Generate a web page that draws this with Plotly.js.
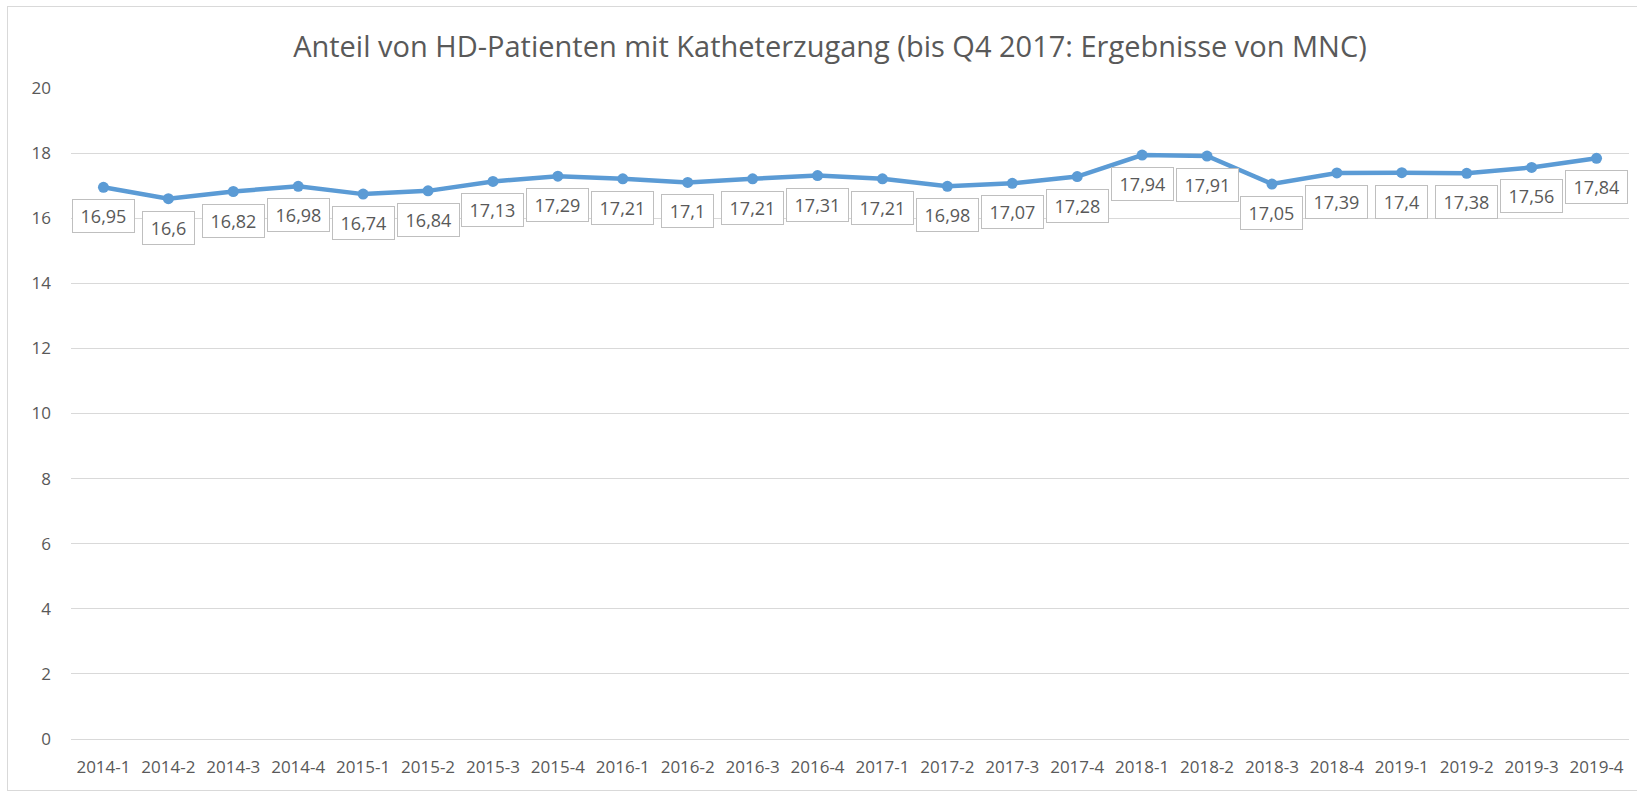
<!DOCTYPE html>
<html>
<head>
<meta charset="utf-8">
<script src="https://cdn.plot.ly/plotly-3.0.1.min.js"></script>
<style>
  html, body { margin: 0; padding: 0; background: #fff; }
  #wrap { position: relative; width: 1637px; height: 796px; overflow: hidden; }
  #chart { position: absolute; left: 0; top: 0; width: 1637px; height: 796px; }
  #frame { position: absolute; left: 7px; top: 6px; width: 1660px; height: 783px;
           border: 1px solid #D9D9D9; pointer-events: none; }
</style>
</head>
<body>
<div id="wrap">
  <div id="chart"></div>
  <div id="frame"></div>
</div>
<script>
const categories = ["2014-1","2014-2","2014-3","2014-4","2015-1","2015-2","2015-3","2015-4",
  "2016-1","2016-2","2016-3","2016-4","2017-1","2017-2","2017-3","2017-4",
  "2018-1","2018-2","2018-3","2018-4","2019-1","2019-2","2019-3","2019-4"];
const values = [16.95,16.6,16.82,16.98,16.74,16.84,17.13,17.29,
  17.21,17.1,17.21,17.31,17.21,16.98,17.07,17.28,
  17.94,17.91,17.05,17.39,17.4,17.38,17.56,17.84];
const yTicks = [0,2,4,6,8,10,12,14,16,18,20];
const titleText = "Anteil von HD-Patienten mit Katheterzugang (bis Q4 2017: Ergebnisse von MNC)";

const FONT = "Open Sans, sans-serif";
const TXT = "#595959";
const labelSize = 18;

const cvs = document.createElement("canvas");
const ctx = cvs.getContext("2d");
ctx.font = labelSize + "px 'Open Sans'";

const labels = values.map(v => String(v).replace(".", ","));
const annotations = categories.map((c, i) => ({
  x: c, y: values[i], xref: "x", yref: "y",
  text: labels[i], showarrow: false,
  yshift: -29,
  width: Math.round(ctx.measureText(labels[i]).width) + 7,
  height: 24,
  borderpad: 4,
  bordercolor: "#BFBFBF", borderwidth: 1, bgcolor: "#FFFFFF",
  font: {family: FONT, size: labelSize, color: TXT}
}));

const trace = {
  x: categories, y: values, type: "scatter", mode: "lines+markers",
  line: {color: "#5B9BD5", width: 4.5},
  marker: {color: "#5B9BD5", size: 11},
  hoverinfo: "x+y"
};

const layout = {
  width: 1637, height: 796,
  margin: {l: 71, r: 8, t: 88, b: 57, pad: 0},
  paper_bgcolor: "#FFFFFF", plot_bgcolor: "#FFFFFF",
  showlegend: false,
  title: {text: titleText, font: {family: FONT, size: 29, color: TXT},
          x: 0.507, xanchor: "center", y: 1 - 47/796, yanchor: "middle", yref: "container"},
  xaxis: {type: "category", range: [-0.5, 23.5], showgrid: false, zeroline: false,
          showline: false, ticks: "", tickfont: {family: FONT, size: 17, color: TXT},
          ticklabelstandoff: 16, fixedrange: true},
  yaxis: {range: [0, 20], tickvals: yTicks, ticktext: yTicks.map(String),
          showgrid: true, gridcolor: "#D9D9D9", gridwidth: 1,
          zeroline: true, zerolinecolor: "#D9D9D9", zerolinewidth: 1,
          showline: false, ticks: "", tickfont: {family: FONT, size: 17, color: TXT},
          ticklabelstandoff: 19, fixedrange: true},
  annotations: annotations
};

Plotly.newPlot("chart", [trace], layout, {displayModeBar: false, staticPlot: true});
</script>
</body>
</html>
